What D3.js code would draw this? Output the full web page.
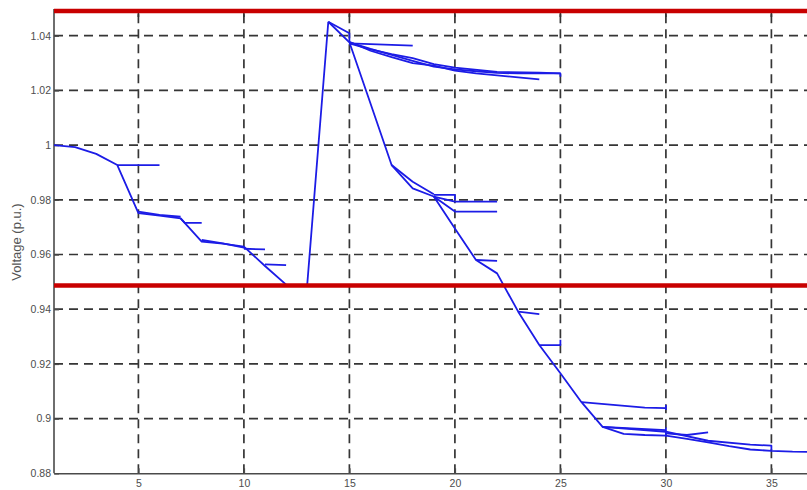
<!DOCTYPE html>
<html>
<head>
<meta charset="utf-8">
<script src="https://cdn.jsdelivr.net/npm/d3@7"></script>
<style>
  html, body { margin: 0; padding: 0; background: #fff; }
  svg { display: block; }
</style>
</head>
<body>
<svg id="chart" width="807" height="490"></svg>
<script>
// ---- Axis ticks ----
const xTicks = [5, 10, 15, 20, 25, 30, 35];
const yTicks = [0.88, 0.90, 0.92, 0.94, 0.96, 0.98, 1.00, 1.02, 1.04];
const yTickLabels = ["0.88", "0.9", "0.92", "0.94", "0.96", "0.98", "1", "1.02", "1.04"];

// ---- Voltage limits (p.u.) ----
const upperLimit = 1.049;
const lowerLimit = 0.9487;

// ---- Feeder 1: buses 1-13, then the jump to the head of feeder 2 ----
const feeder1Bus = [1, 2, 3, 4, 5, 6, 7, 8, 9, 10, 11, 12, 13, 14];
const feeder1V   = [1.0000, 0.9993, 0.9968, 0.9927, 0.9751, 0.9742, 0.9732, 0.9647, 0.9640, 0.9629, 0.9558, 0.9490, 0.9489, 1.0451];

// feeder 1 laterals
const lat4Bus  = [4, 6];            const lat4V  = [0.9927, 0.9927];
const lat5Bus  = [5, 6, 7];         const lat5V  = [0.9757, 0.9745, 0.9738];
const lat7Bus  = [7, 7.2, 8];       const lat7V  = [0.9732, 0.9716, 0.9716];
const lat8Bus  = [8, 9, 10];        const lat8V  = [0.9653, 0.9641, 0.9625];
const lat10Bus = [10, 11];          const lat10V = [0.9621, 0.9619];
const lat11Bus = [11, 12];          const lat11V = [0.9564, 0.9561];

// ---- Feeder 2: main path from bus 14 to the far end ----
const feeder2Bus = [14, 15, 16, 17, 18, 19, 20, 21, 22, 23, 24, 25, 26, 27, 28, 29, 30, 31, 32, 33, 34, 35, 36, 37, 38];
const feeder2V   = [1.0451, 1.0376, 1.0152, 0.9927, 0.9842, 0.9812, 0.9695, 0.9580, 0.9531, 0.9391, 0.9269, 0.9166,
                    0.9060, 0.8970, 0.8944, 0.8940, 0.8938, 0.8926, 0.8913, 0.8899, 0.8887, 0.8882, 0.8879, 0.8878, 0.8877];

// feeder 2 upper branch (buses 15-25)
const upperABus = [15, 16, 17, 18, 19, 20, 21, 22, 23, 24, 25];
const upperAV   = [1.0376, 1.0352, 1.0330, 1.0308, 1.0287, 1.0277, 1.0270, 1.0264, 1.0262, 1.0262, 1.0262];
const upperBBus = [14, 15, 15, 16, 17, 18, 19, 20, 21, 22, 23, 24];
const upperBV   = [1.0451, 1.0409, 1.0378, 1.0345, 1.0322, 1.0300, 1.0291, 1.0272, 1.0262, 1.0255, 1.0248, 1.0240];
const upperCBus = [15, 16, 17, 18, 19, 20, 22, 24, 25, 25];
const upperCV   = [1.0372, 1.0350, 1.0333, 1.0318, 1.0296, 1.0283, 1.0268, 1.0265, 1.0262, 1.0250];
const lat15Bus  = [15, 18];         const lat15V = [1.0372, 1.0364];

// feeder 2 laterals along the main path
const lat17Bus  = [17, 18, 19];     const lat17V  = [0.9927, 0.9866, 0.9820];
const lat19aBus = [19, 20, 20];     const lat19aV = [0.9818, 0.9818, 0.9800];
const lat19bBus = [19, 20, 22];     const lat19bV = [0.9812, 0.9793, 0.9793];
const lat19cBus = [19, 20, 22];     const lat19cV = [0.9812, 0.9757, 0.9757];
const lat21Bus  = [21, 22];         const lat21V  = [0.9580, 0.9577];
const lat23Bus  = [23, 24];         const lat23V  = [0.9391, 0.9382];
const lat24Bus  = [24, 25, 25];     const lat24V  = [0.9269, 0.9269, 0.9288];
const lat26Bus  = [26, 29, 30, 30, 30]; const lat26V = [0.9060, 0.9040, 0.9038, 0.9047, 0.9031];
const lat27Bus  = [27, 30, 30, 30]; const lat27V  = [0.8970, 0.8958, 0.8965, 0.8934];
const lat30aBus = [30, 31, 32];     const lat30aV = [0.8946, 0.8940, 0.8950];
const lat30bBus = [27, 30, 32, 34, 35, 35]; const lat30bV = [0.8970, 0.8952, 0.8919, 0.8905, 0.8901, 0.8885];

const branchPaths = [
  [feeder1Bus, feeder1V], [lat4Bus, lat4V], [lat5Bus, lat5V], [lat7Bus, lat7V],
  [lat8Bus, lat8V], [lat10Bus, lat10V], [lat11Bus, lat11V],
  [feeder2Bus, feeder2V], [upperABus, upperAV], [upperBBus, upperBV], [upperCBus, upperCV],
  [lat15Bus, lat15V], [lat17Bus, lat17V], [lat19aBus, lat19aV], [lat19bBus, lat19bV],
  [lat19cBus, lat19cV], [lat21Bus, lat21V], [lat23Bus, lat23V], [lat24Bus, lat24V],
  [lat26Bus, lat26V], [lat27Bus, lat27V], [lat30aBus, lat30aV], [lat30bBus, lat30bV]
].map(([b, v]) => b.map((bus, i) => ({ bus, v: v[i] })));

// ---- Layout ----
const W = 807, H = 490;
const plot = { left: 54, top: 11.1, bottom: 473.3, right: 834.7 };

const x = d3.scaleLinear().domain([1, 38]).range([plot.left, plot.right]);
const y = d3.scaleLinear().domain([0.88, upperLimit]).range([plot.bottom, plot.top]);

const svg = d3.select("#chart");
svg.append("rect").attr("width", W).attr("height", H).attr("fill", "#fff");

svg.append("defs").append("clipPath").attr("id", "plotClip")
  .append("rect")
  .attr("x", plot.left).attr("y", plot.top - 4)
  .attr("width", W - plot.left).attr("height", plot.bottom - plot.top + 4);

// dashed grid
const grid = svg.append("g").attr("clip-path", "url(#plotClip)");
grid.selectAll("line.hg").data(yTicks.slice(1)).join("line")
  .attr("x1", plot.left).attr("x2", W)
  .attr("y1", d => y(d)).attr("y2", d => y(d))
  .attr("stroke", "#353535").attr("stroke-width", 1.7)
  .attr("stroke-dasharray", "9,6");
grid.selectAll("line.vg").data(xTicks).join("line")
  .attr("x1", d => x(d)).attr("x2", d => x(d))
  .attr("y1", plot.bottom).attr("y2", plot.top)
  .attr("stroke", "#353535").attr("stroke-width", 1.7)
  .attr("stroke-dasharray", "9,6");

// top ticks
grid.selectAll("line.tt").data(xTicks).join("line")
  .attr("x1", d => x(d)).attr("x2", d => x(d))
  .attr("y1", plot.top).attr("y2", plot.top + 6)
  .attr("stroke", "#353535").attr("stroke-width", 1.7);

// axes
const fontFam = "'Liberation Sans', Arial, sans-serif";
const yAxis = svg.append("g")
  .attr("transform", `translate(${plot.left},0)`)
  .call(d3.axisLeft(y).tickValues(yTicks)
    .tickFormat((d, i) => yTickLabels[i]).tickSize(-5).tickSizeOuter(0).tickPadding(3));
const xAxis = svg.append("g")
  .attr("transform", `translate(0,${plot.bottom})`)
  .call(d3.axisBottom(x).tickValues(xTicks).tickSize(-5).tickSizeOuter(0).tickPadding(6));

[yAxis, xAxis].forEach(g => {
  g.select(".domain").attr("stroke", "#4a4a4a").attr("stroke-width", 1.6);
  g.selectAll(".tick line").attr("stroke", "#4a4a4a").attr("stroke-width", 1.4);
  g.selectAll(".tick text").attr("fill", "#4d4d4d")
    .style("font-family", fontFam).style("font-size", "10.5px");
});
yAxis.select(".domain").attr("d", `M0,${plot.bottom}V${plot.top - 2}`);

// voltage profile lines
const line = d3.line().x(d => x(d.bus)).y(d => y(d.v));
svg.append("g").attr("clip-path", "url(#plotClip)")
  .selectAll("path").data(branchPaths).join("path")
  .attr("d", line)
  .attr("fill", "none")
  .attr("stroke", "#1c1ce6")
  .attr("stroke-width", 1.8)
  .attr("stroke-linejoin", "round");

// limit lines
svg.append("g").selectAll("line").data([upperLimit, lowerLimit]).join("line")
  .attr("x1", plot.left).attr("x2", W)
  .attr("y1", d => y(d)).attr("y2", d => y(d))
  .attr("stroke", "#c80000").attr("stroke-width", 4.5);

// y label
svg.append("text")
  .attr("transform", `translate(18,242) rotate(-90)`)
  .attr("text-anchor", "middle")
  .attr("dominant-baseline", "middle")
  .attr("fill", "#555")
  .style("font-family", fontFam)
  .style("font-size", "13px")
  .text("Voltage (p.u.)");
</script>
</body>
</html>
